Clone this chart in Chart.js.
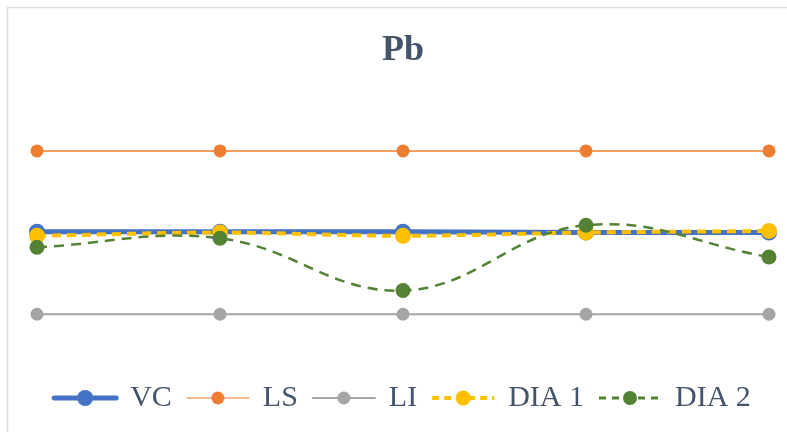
<!DOCTYPE html>
<html>
<head>
<meta charset="utf-8">
<script src="https://cdn.jsdelivr.net/npm/chart.js@4"></script>
<style>
  body { margin: 0; background: #fff; }
  canvas { display: block; }
</style>
</head>
<body>
<canvas id="myChart" width="787" height="432"></canvas>
<script>
// values (no axis shown, arbitrary units)
let labels = ["1", "2", "3", "4", "5"];
let vcValues = [20.1, 20.1, 20.1, 20.0, 20.0];
let lsValues = [30, 30, 30, 30, 30];
let liValues = [10, 10, 10, 10, 10];
let dia1Values = [19.6, 20.0, 19.6, 20.0, 20.2];
let dia2Values = [18.2, 19.3, 12.9, 20.9, 17.0];

// legend marker: short line with a dot in the middle, like Excel
function makeMarker(lineColor, dotColor, lineWidth, dash, radius) {
  var c = document.createElement('canvas');
  c.width = 68;
  c.height = 22;
  var ctx = c.getContext('2d');
  ctx.strokeStyle = lineColor;
  ctx.lineWidth = lineWidth;
  ctx.lineCap = dash ? 'butt' : 'round';
  ctx.setLineDash(dash || []);
  ctx.beginPath();
  ctx.moveTo(3, 11);
  ctx.lineTo(65, 11);
  ctx.stroke();
  ctx.setLineDash([]);
  ctx.fillStyle = dotColor;
  ctx.beginPath();
  ctx.arc(34, 11, radius, 0, Math.PI * 2);
  ctx.fill();
  return c;
}

const frame = {
  id: 'frame',
  beforeDraw(chart) {
    var ctx = chart.ctx;
    ctx.save();
    ctx.strokeStyle = '#D9DEE4';
    ctx.lineWidth = 1.5;
    ctx.strokeRect(7.5, 7.5, 900, 900);
    ctx.restore();
  }
};

var chart = new Chart("myChart", {
  type: "line",
  data: {
    labels: labels,
    datasets: [{
      label: "VC",
      data: vcValues,
      borderColor: "#4472C4",
      backgroundColor: "#4472C4",
      borderWidth: 5,
      pointRadius: 8,
      pointBorderWidth: 0,
      order: 5,
      marker: makeMarker("#4472C4", "#4472C4", 5, null, 8)
    }, {
      label: "LS",
      data: lsValues,
      borderColor: "#ED7D31",
      backgroundColor: "#ED7D31",
      borderWidth: 1.5,
      pointRadius: 6.5,
      pointBorderWidth: 0,
      order: 4,
      marker: makeMarker("#F2A474", "#ED7D31", 1.5, null, 6.5)
    }, {
      label: "LI",
      data: liValues,
      borderColor: "#A5A5A5",
      backgroundColor: "#A5A5A5",
      borderWidth: 2,
      pointRadius: 6.5,
      pointBorderWidth: 0,
      order: 3,
      marker: makeMarker("#A5A5A5", "#A5A5A5", 2, null, 6.5)
    }, {
      label: "DIA 1",
      data: dia1Values,
      borderColor: "#FFC000",
      backgroundColor: "#FFC000",
      borderWidth: 4,
      borderDash: [9, 6],
      tension: 0.3,
      pointRadius: 8,
      pointBorderWidth: 0,
      order: 2,
      marker: makeMarker("#FFC000", "#FFC000", 4, [7, 5], 7.5)
    }, {
      label: "DIA 2",
      data: dia2Values,
      borderColor: "#548235",
      backgroundColor: "#548235",
      borderWidth: 2.5,
      borderDash: [10, 7],
      tension: 0.4,
      pointRadius: 7.5,
      pointBorderWidth: 0,
      order: 1,
      marker: makeMarker("#548235", "#548235", 3, [7, 6], 7)
    }]
  },
  options: {
    responsive: false,
    animation: false,
    clip: false,
    layout: { padding: { left: 37, right: 18, top: 0, bottom: 9 } },
    scales: {
      x: { display: false, offset: false },
      y: { display: false, min: 3.54, max: 38.41 }
    },
    plugins: {
      tooltip: { enabled: false },
      title: {
        display: true,
        text: "Pb",
        color: "#44546A",
        font: { family: "'Liberation Serif', 'Times New Roman', serif", size: 36, weight: "bold" },
        padding: { top: 29, bottom: 10 }
      },
      legend: {
        position: "bottom",
        labels: {
          usePointStyle: true,
          pointStyleWidth: 60,
          padding: 16,
          color: "#44546A",
          font: { family: "'Liberation Serif', 'Times New Roman', serif", size: 30 },
          generateLabels: function (c) {
            return c.data.datasets.map(function (ds, i) {
              return {
                text: ds.label,
                pointStyle: ds.marker,
                fillStyle: ds.borderColor,
                strokeStyle: ds.borderColor,
                lineWidth: 0,
                fontColor: "#44546A",
                hidden: false,
                datasetIndex: i
              };
            });
          }
        }
      }
    }
  },
  plugins: [frame]
});
</script>
</body>
</html>
